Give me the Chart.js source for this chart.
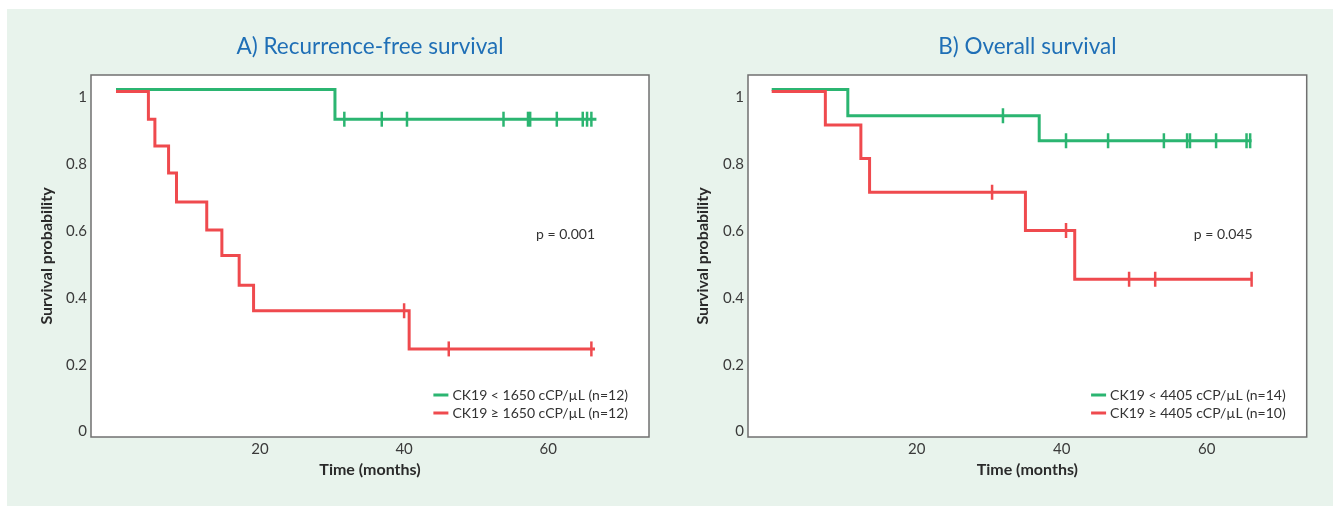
<!DOCTYPE html>
<html>
<head>
<meta charset="utf-8">
<script src="https://cdn.jsdelivr.net/npm/chart.js@4/dist/chart.umd.min.js"></script>
<style>
  body { margin: 0; background: #fff; width: 1340px; height: 506px; position: relative; overflow: hidden; }
  #panel { position: absolute; left: 7px; top: 9px; width: 1326px; height: 497px; background: #e8f3ec; }
  canvas { position: absolute; top: 0; }
  #cA { left: 0; }
  #cB { left: 670px; }
</style>
</head>
<body>
<div id="panel"></div>
<canvas id="cA" width="670" height="506"></canvas>
<canvas id="cB" width="670" height="506"></canvas>
<script>
// A) recurrence-free survival: step times and survival after each step
var rfsLowTimes = [0, 30.4, 66.7];
var rfsLowSurv = [1.022, 0.933, 0.933];
var rfsLowCensor = [31.7, 36.9, 40.4, 53.8, 57.2, 57.5, 61.2, 64.8, 65.4, 66.0];
var rfsHighTimes = [0, 4.5, 5.4, 7.3, 8.4, 12.6, 14.7, 17.1, 19.1, 40.7, 66.5];
var rfsHighSurv = [1.016, 0.933, 0.853, 0.772, 0.686, 0.602, 0.526, 0.437, 0.361, 0.247, 0.247];
var rfsHighCensor = [40.0, 46.2, 66.0];

// B) overall survival
var osLowTimes = [0, 10.5, 36.9, 66.2];
var osLowSurv = [1.022, 0.943, 0.869, 0.869];
var osLowCensor = [31.9, 40.6, 46.4, 54.1, 57.3, 57.7, 61.3, 65.5, 66.0];
var osHighTimes = [0, 7.4, 12.3, 13.5, 35.0, 41.8, 66.2];
var osHighSurv = [1.016, 0.916, 0.816, 0.715, 0.601, 0.455, 0.455];
var osHighCensor = [30.4, 40.6, 49.3, 52.9, 66.2];

var yTicks = [0, 0.2, 0.4, 0.6, 0.8, 1];
var xTicks = [20, 40, 60];

var GREEN = '#2bb571';
var RED = '#ef4a4e';
var FONT = 'Lato, "Open Sans", sans-serif';

// value of a step curve at time t
function survAt(times, surv, t) {
    var v = surv[0];
    for (var i = 0; i < times.length; i++) {
        if (times[i] <= t) v = surv[i];
    }
    return v;
}

function curve(times, surv) {
    return times.map(function(t, i) { return {x: t, y: surv[i]}; });
}

function censorPts(times, surv, cens) {
    return cens.map(function(t) { return {x: t, y: survAt(times, surv, t)}; });
}

function makeChart(id, cfg) {
    var extras = {
        id: 'extras',
        beforeDraw: function(chart) {
            var a = chart.chartArea, ctx = chart.ctx;
            ctx.save();
            ctx.fillStyle = '#fff';
            ctx.fillRect(a.left, a.top, a.right - a.left, a.bottom - a.top);
            ctx.strokeStyle = '#707070';
            ctx.lineWidth = 1.5;
            ctx.strokeRect(a.left, a.top, a.right - a.left, a.bottom - a.top);
            ctx.restore();
        },
        afterDraw: function(chart) {
            var a = chart.chartArea, ctx = chart.ctx;
            ctx.save();
            // title
            ctx.fillStyle = '#1f6fb6';
            ctx.font = '22.5px ' + FONT;
            ctx.textAlign = 'center';
            ctx.textBaseline = 'middle';
            ctx.fillText(cfg.title, (a.left + a.right) / 2, 47);
            // p value
            ctx.fillStyle = '#333';
            ctx.font = '14px ' + FONT;
            ctx.textAlign = 'right';
            ctx.fillText(cfg.p, a.right - 54, a.top + 159);
            // legend
            cfg.legend.forEach(function(item, i) {
                var y = a.bottom - 42 + i * 18;
                var w = ctx.measureText(item.text).width;
                var tx = a.right - 21 - w;
                ctx.fillStyle = '#333';
                ctx.textAlign = 'left';
                ctx.fillText(item.text, tx, y);
                ctx.strokeStyle = item.color;
                ctx.lineWidth = 3;
                ctx.beginPath();
                ctx.moveTo(tx - 19, y);
                ctx.lineTo(tx - 4, y);
                ctx.stroke();
            });
            ctx.restore();
        }
    };

    var datasets = [];
    cfg.groups.forEach(function(g) {
        datasets.push({
            data: curve(g.times, g.surv),
            borderColor: g.color,
            borderWidth: 3,
            stepped: 'before',
            pointRadius: 0,
            fill: false
        });
        datasets.push({
            type: 'scatter',
            data: censorPts(g.times, g.surv, g.censor),
            pointStyle: 'line',
            rotation: 90,
            pointRadius: 7.5,
            borderColor: g.color,
            borderWidth: 2.5,
            showLine: false
        });
    });

    return new Chart(document.getElementById(id), {
        type: 'line',
        data: {datasets: datasets},
        plugins: [extras],
        options: {
            responsive: false,
            animation: false,
            layout: {padding: {top: 75, right: cfg.padRight, left: 0, bottom: 0}},
            plugins: {legend: {display: false}, tooltip: {enabled: false}},
            scales: {
                x: {
                    type: 'linear',
                    min: cfg.xMin,
                    max: cfg.xMax,
                    afterBuildTicks: function(s) { s.ticks = xTicks.map(function(v) { return {value: v}; }); },
                    afterFit: function(s) { s.height = 69; },
                    grid: {display: false, drawTicks: false},
                    border: {display: false},
                    ticks: {padding: 3, color: '#3a3a3a', font: {family: FONT, size: 15}},
                    title: {
                        display: true,
                        text: 'Time (months)',
                        color: '#2a2a2a',
                        font: {family: FONT, size: 16, weight: 'bold'},
                        padding: {top: 0, bottom: 26.4}
                    }
                },
                y: {
                    type: 'linear',
                    min: -0.016,
                    max: 1.065,
                    afterBuildTicks: function(s) { s.ticks = yTicks.map(function(v) { return {value: v}; }); },
                    afterFit: function(s) { s.width = cfg.yWidth; },
                    grid: {display: false, drawTicks: false},
                    border: {display: false},
                    ticks: {
                        padding: 4,
                        color: '#3a3a3a',
                        font: {family: FONT, size: 15},
                        callback: function(v) { return String(v); }
                    },
                    title: {
                        display: true,
                        text: 'Survival probability',
                        color: '#2a2a2a',
                        font: {family: FONT, size: 16, weight: 'bold'},
                        padding: {top: cfg.yTitlePad, bottom: 0}
                    }
                }
            }
        }
    });
}

makeChart('cA', {
    title: 'A) Recurrence-free survival',
    p: 'p = 0.001',
    xMin: -3.47, xMax: 74.0,
    yWidth: 91, padRight: 21, yTitlePad: 37.4,
    groups: [
        {times: rfsHighTimes, surv: rfsHighSurv, censor: rfsHighCensor, color: RED},
        {times: rfsLowTimes, surv: rfsLowSurv, censor: rfsLowCensor, color: GREEN}
    ],
    legend: [
        {text: 'CK19 < 1650 cCP/µL (n=12)', color: GREEN},
        {text: 'CK19 ≥ 1650 cCP/µL (n=12)', color: RED}
    ]
});

makeChart('cB', {
    title: 'B) Overall survival',
    p: 'p = 0.045',
    xMin: -3.27, xMax: 73.8,
    yWidth: 78, padRight: 33.3, yTitlePad: 23.7,
    groups: [
        {times: osHighTimes, surv: osHighSurv, censor: osHighCensor, color: RED},
        {times: osLowTimes, surv: osLowSurv, censor: osLowCensor, color: GREEN}
    ],
    legend: [
        {text: 'CK19 < 4405 cCP/µL (n=14)', color: GREEN},
        {text: 'CK19 ≥ 4405 cCP/µL (n=10)', color: RED}
    ]
});
</script>
</body>
</html>
